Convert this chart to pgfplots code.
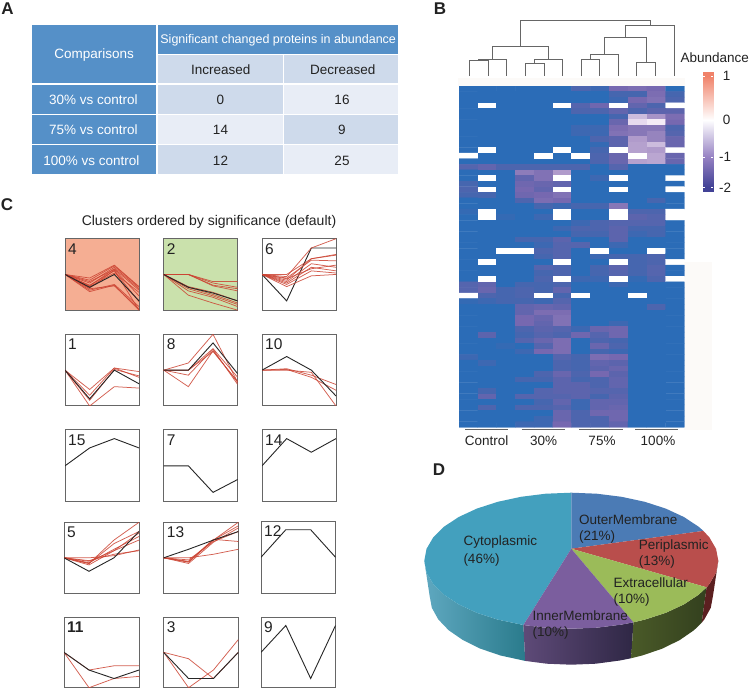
\documentclass[border=0pt]{standalone}
\usepackage{fontspec}
\setmainfont{Liberation Sans}
\usepackage{pgfplots}
\usepackage{pgfplotstable}
\pgfplotsset{compat=1.18}

\newcommand{\fs}[1]{\fontsize{#1}{#1}\selectfont}
\definecolor{hd}{HTML}{5590C8}
\definecolor{cdark}{HTML}{CEDAEB}
\definecolor{clite}{HTML}{E8EDF6}
\definecolor{txt}{HTML}{222222}
\definecolor{redl}{HTML}{CC4433}
\definecolor{faint}{HTML}{FCFAF8}

\pgfplotsset{
  colormap={heatmap}{rgb255(0)=(43,108,183) rgb255(3)=(70,102,175) rgb255(6)=(92,100,173)
    rgb255(10)=(118,104,176) rgb255(14)=(141,124,186) rgb255(18)=(176,155,203)
    rgb255(22)=(196,178,216) rgb255(26)=(230,218,238) rgb255(28)=(244,236,246)
    rgb255(30)=(255,255,255) rgb255(40)=(240,130,105)},
  colormap={barmap}{rgb255(0)=(66,66,150) rgb255(1)=(150,130,195) rgb255(2)=(255,255,255) rgb255(3)=(240,130,105)},
  panel/.style={scale only axis, anchor=north west, ticks=none, xmin=0, xmax=3, ymin=0, ymax=1,
    axis line style={draw=black!60, line width=1pt}},
  rd/.style={redl, line width=.75pt, opacity=.85, no marks},
  bk/.style={black!85, line width=.9pt, no marks},
  dendro/.style={black!60, line width=1pt, no marks},
}

% heatmap rows top to bottom, 12 conditions; 0 = missing (white), -3 = lowest
\pgfplotstableread[row sep=\\]{v\\
-3\\-3\\-3\\-3\\-3\\-3\\-2.6\\-2.8\\-2.0\\-1.9\\-2.0\\-3\\
-3\\-3\\-3\\-3\\-3\\-3\\-3\\-3\\-2.7\\-2.7\\-1.9\\-2.7\\
-3\\-3\\-3\\-3\\-3\\-3\\-3\\-3\\-2.8\\-2.0\\-1.8\\-2.6\\
-3\\0\\-3\\-3\\-3\\0\\-2.5\\-2.1\\0\\-2.3\\-2.6\\0\\
-3\\-3\\-3\\-3\\-3\\-3\\-2.6\\-2.6\\-2.3\\-2.6\\-2.4\\-2.4\\
-3\\-3\\-3\\-3\\-3\\-3\\-3\\-3\\-2.7\\-0.7\\-1.3\\-1.9\\
-3\\-3\\-3\\-3\\-3\\-3\\-3\\-3\\-2.2\\-0.4\\-0.2\\-2.0\\
-3\\-3\\-3\\-3\\-3\\-3\\-2.8\\-2.8\\-1.9\\-1.7\\-1.7\\-2.6\\
-3\\-3\\-3\\-3\\-3\\-3\\-2.8\\-2.8\\-1.8\\-1.7\\-1.5\\-2.5\\
-3\\-3\\-3\\-3\\-3\\-3\\-3\\-2.6\\-2.4\\-1.2\\-1.5\\-2.2\\
-3\\-3\\-3\\-3\\-3\\-3\\-3\\-2.9\\-2.4\\-1.1\\-0.7\\-2.2\\
-3\\0\\-3\\-3\\-3\\0\\-3\\-2.7\\0\\-1.1\\-1.2\\0\\
0\\-3\\-3\\-3\\0\\-3\\0\\-2.6\\-2.2\\0\\-1.0\\-2.2\\
-3\\-3\\-3\\-3\\-3\\-3\\-3\\-2.6\\-2.2\\-1.1\\-1.0\\-2.2\\
-2.5\\-2.3\\-2.6\\-2.6\\-2.6\\-2.6\\-2.6\\-3\\-2.5\\-3\\-3\\-3\\
-3\\-3\\-3\\-1.6\\-1.8\\-1.2\\-3\\-3\\-3\\-3\\-3\\-3\\
-3\\0\\-3\\-2.3\\-1.8\\0\\-3\\-2.8\\0\\-3\\-3\\0\\
-2.7\\-3\\-3\\-2.1\\-2.2\\-2.3\\-3\\-3\\-3\\-3\\-3\\-3\\
-2.6\\0\\-3\\-2.0\\-2.3\\0\\-3\\-3\\0\\-3\\-3\\0\\
-2.7\\-2.7\\-3\\-2.1\\-2.0\\-1.8\\-3\\-3\\-3\\-3\\-3\\-3\\
-3\\-3\\-3\\-2.6\\-1.9\\-2.0\\-3\\-3\\-3\\-3\\-2.7\\-3\\
-3\\-3\\-3\\-3\\-2.7\\-2.8\\-2.7\\-2.7\\-1.7\\-3\\-3\\-3\\
-2.9\\0\\-3\\-3\\-3\\0\\-3\\-3\\0\\-2.6\\-2.6\\0\\
-3\\0\\-2.9\\-3\\-2.8\\0\\-3\\-3\\0\\-2.4\\-2.5\\0\\
-3\\-3\\-3\\-3\\-3\\-3\\-2.8\\-2.6\\-2.5\\-2.5\\-2.5\\-3\\
-3\\-3\\-3\\-3\\-3\\-2.8\\-2.6\\-2.6\\-2.4\\-2.7\\-2.7\\-3\\
-3\\-3\\-3\\-3\\-3\\-3\\-2.7\\-2.7\\-2.4\\-2.8\\-2.7\\-3\\
-3\\-3\\-3\\-2.7\\-2.7\\-2.4\\-3\\-3\\-2.4\\-3\\-3\\-3\\
-3\\-3\\-3\\-3\\-2.8\\-2.5\\-2.5\\-3\\-2.8\\-3\\-3\\-3\\
-3\\-3\\0\\0\\-2.6\\-2.5\\-3\\0\\-3\\-3\\0\\-3\\
-3\\-3\\-3\\-3\\-2.7\\-2.5\\-3\\-2.8\\-2.7\\-2.7\\-2.6\\-3\\
-3\\0\\-3\\-3\\-3\\0\\-3\\-3\\0\\-2.7\\-2.6\\0\\
-3\\-3\\-3\\-3\\-2.5\\-2.6\\-3\\-2.7\\-2.4\\-2.7\\-2.5\\-3\\
-3\\-3\\-3\\-3\\-2.7\\-2.6\\-3\\-2.7\\-2.5\\-2.7\\-2.5\\-3\\
-3\\0\\-3\\-3\\-2.6\\0\\-2.8\\-2.8\\0\\-2.9\\-2.6\\0\\
-2.5\\-2.3\\-3\\-2.7\\-2.7\\-2.6\\-3\\-3\\-2.8\\-3\\-3\\-3\\
-2.5\\-2.2\\-2.7\\-2.6\\-2.7\\-2.3\\-3\\-3\\-3\\-3\\-3\\-3\\
0\\-2.6\\-2.7\\-2.6\\0\\-2.7\\0\\-3\\-3\\0\\-3\\-3\\
-2.9\\-2.8\\-2.7\\-2.7\\-2.8\\-2.5\\-3\\-3\\-3\\-3\\-3\\-3\\
-3\\-3\\-3\\-2.3\\-2.2\\-2.3\\-3\\-3\\-3\\-3\\-2.6\\-3\\
-3\\-3\\-3\\-2.3\\-1.9\\-1.9\\-3\\-3\\-3\\-3\\-3\\-3\\
-3\\-3\\-3\\-2.0\\-2.2\\-1.8\\-3\\-3\\-3\\-3\\-3\\-3\\
-3\\-3\\-3\\-2.0\\-2.3\\-1.8\\-3\\-3\\-2.8\\-3\\-3\\-3\\
-3\\-3\\-3\\-2.6\\-2.4\\-2.5\\-2.8\\-2.2\\-2.1\\-3\\-3\\-3\\
-3\\-2.4\\-3\\-2.7\\-2.5\\-2.6\\-2.1\\-2.5\\-2.1\\-3\\-3\\-3\\
-3\\-3\\-3\\-2.5\\-2.2\\-1.9\\-3\\-2.6\\-2.7\\-3\\-3\\-3\\
-3\\-3\\-2.9\\-3\\-2.5\\-1.9\\-3\\-2.2\\-2.6\\-3\\-3\\-3\\
-3\\-3\\-3\\-2.8\\-2.0\\-1.9\\-3\\-2.7\\-2.8\\-3\\-3\\-3\\
-2.8\\-3\\-3\\-3\\-3\\-2.5\\-2.7\\-1.9\\-2.0\\-3\\-3\\-3\\
-3\\-2.8\\-3\\-3\\-3\\-2.6\\-2.7\\-2.3\\-2.4\\-3\\-3\\-3\\
-3\\-3\\-3\\-3\\-3\\-2.6\\-2.7\\-2.4\\-2.2\\-3\\-3\\-3\\
-3\\-3\\-3\\-3\\-2.6\\-2.2\\-2.6\\-2.0\\-2.4\\-3\\-3\\-3\\
-3\\-3\\-3\\-2.7\\-2.7\\-2.4\\-2.7\\-2.6\\-2.3\\-3\\-3\\-3\\
-3\\-3\\-3\\-3\\-3\\-2.4\\-2.4\\-2.6\\-2.3\\-3\\-3\\-3\\
-3\\-2.7\\-3\\-3\\-2.5\\-2.4\\-2.4\\-2.5\\-2.5\\-3\\-3\\-3\\
-3\\-2.3\\-3\\-2.5\\-2.5\\-2.5\\-2.4\\-2.7\\-2.4\\-3\\-3\\-3\\
-3\\-3\\-3\\-3\\-2.7\\-2.3\\-2.8\\-2.3\\-2.3\\-3\\-3\\-3\\
-3\\-2.6\\-3\\-2.6\\-2.6\\-2.5\\-2.8\\-2.3\\-2.2\\-3\\-3\\-3\\
-3\\-3\\-3\\-3\\-3\\-2.2\\-2.6\\-2.1\\-2.1\\-3\\-3\\-3\\
-3\\-3\\-3\\-3\\-2.8\\-2.2\\-2.6\\-2.6\\-2.1\\-3\\-3\\-3\\
-3\\-3\\-3\\-2.8\\-2.8\\-2.0\\-2.6\\-2.6\\-2.3\\-3\\-3\\-3\\
}\heat

\newcommand{\cell}[5]{\addplot[fill=#5, draw=white, line width=1.1pt, no marks] coordinates {(#1,#2)(#3,#2)(#3,#4)(#1,#4)} -- cycle;}
\newcommand{\rl}[4]{\addplot[rd] coordinates {(0,#1)(1,#2)(2,#3)(3,#4)};}
\newcommand{\bl}[4]{\addplot[bk] coordinates {(0,#1)(1,#2)(2,#3)(3,#4)};}
% x, y of top edge, width, height, background, number, lines
\newcommand{\panel}[7]{
  \begin{axis}[panel, at={(#1pt,689pt-#2pt)}, width=#3pt, height=#4pt, axis background/.style={fill=#5}]
    #7
    \node[anchor=west, inner sep=0pt, font=\fs{15.5}, text=txt] at (rel axis cs:.04,.86) {#6};
  \end{axis}}

\begin{document}
\begin{tikzpicture}[x=1pt, y=1pt]
\path[use as bounding box] (0,0) rectangle (750,689);

% everything typed in reference pixels
\begin{axis}[at={(0,0)}, anchor=south west, scale only axis, width=750pt, height=689pt,
  xmin=0, xmax=750, ymin=0, ymax=689, y dir=reverse, hide axis, clip=false]

% faint bands round the heatmap
\addplot[fill=faint, draw=none, no marks] coordinates {(458,78)(685,78)(685,86)(458,86)} -- cycle;
\addplot[fill=faint, draw=none, no marks] coordinates {(684,262)(712,262)(712,430)(684,430)} -- cycle;

% A: table
\cell{31.7}{24.3}{157}{84}{hd}
\cell{157}{24.3}{399}{54.3}{hd}
\cell{157}{54.3}{283.3}{84}{cdark}
\cell{283.3}{54.3}{399}{84}{cdark}
\cell{31.7}{84}{157}{114.7}{hd}
\cell{157}{84}{283.3}{114.7}{cdark}
\cell{283.3}{84}{399}{114.7}{clite}
\cell{31.7}{114.7}{157}{144.7}{hd}
\cell{157}{114.7}{283.3}{144.7}{clite}
\cell{283.3}{114.7}{399}{144.7}{cdark}
\cell{31.7}{144.7}{157}{174.3}{hd}
\cell{157}{144.7}{283.3}{174.3}{cdark}
\cell{283.3}{144.7}{399}{174.3}{clite}
\begin{scope}[every node/.style={font=\fs{13.5}, text=txt, inner sep=0pt}]
\node[text=white] at (94.2,55) {Comparisons};
\node[text=white, font=\fs{12.5}] at (278.2,40.7) {Significant changed proteins in abundance};
\node at (220.8,70) {Increased};
\node at (342.7,70) {Decreased};
\node[text=white] at (93.3,100) {30\% vs control};
\node[text=white] at (93.3,130) {75\% vs control};
\node[text=white] at (91.3,160.7) {100\% vs control};
\node at (220.5,100) {0};
\node at (342,100) {16};
\node at (220.5,130) {14};
\node at (342,130) {9};
\node at (220.5,160.7) {12};
\node at (342,160.7) {25};
\node[font=\fs{17}\bfseries] at (7.5,9) {A};
\node[font=\fs{17}\bfseries] at (440,9) {B};
\node[font=\fs{17}\bfseries] at (7,205) {C};
\node[font=\fs{17}\bfseries] at (439,470) {D};
\node[font=\fs{14}] at (209,221.7) {Clusters ordered by significance (default)};
\node at (714.7,58) {Abundance};
\node at (726.7,76) {1};
\node at (726.7,120) {0};
\node at (725,156.7) {-1};
\node at (725,187.3) {-2};
\node at (486.7,440.7) {Control};
\node at (543.7,440.7) {30\%};
\node at (602,440.7) {75\%};
\node at (658,440.7) {100\%};
\end{scope}

% B: dendrogram and group bars
\addplot[dendro] coordinates {(469,76)(469,60)(488,60)(488,76)};
\addplot[dendro] coordinates {(478.7,60)(478.7,59)(506.7,59)(506.7,76)};
\addplot[dendro] coordinates {(525,76)(525,63.3)(544,63.3)(544,76)};
\addplot[dendro] coordinates {(534.3,63.3)(534.3,59.3)(562.3,59.3)(562.3,76)};
\addplot[dendro] coordinates {(492.3,59)(492.3,46.7)(548.3,46.7)(548.3,59.3)};
\addplot[dendro] coordinates {(581,76)(581,59)(599.7,59)(599.7,76)};
\addplot[dendro] coordinates {(590,59)(590,54.3)(618.3,54.3)(618.3,76)};
\addplot[dendro] coordinates {(636.7,76)(636.7,62.7)(655.7,62.7)(655.7,76)};
\addplot[dendro] coordinates {(604,54.3)(604,37.7)(646,37.7)(646,62.7)};
\addplot[dendro] coordinates {(625,37.7)(625,25)(674,25)(674,76)};
\addplot[dendro] coordinates {(520.3,46.7)(520.3,20.7)(650,20.7)(650,25)};
\addplot[black!60, line width=.9pt, no marks] coordinates {(465,429.7)(508.3,429.7)};
\addplot[black!60, line width=.9pt, no marks] coordinates {(521.7,429.7)(565,429.7)};
\addplot[black!60, line width=.9pt, no marks] coordinates {(579.3,429.7)(622.7,429.7)};
\addplot[black!60, line width=.9pt, no marks] coordinates {(635,429.7)(678.3,429.7)};

% D: pie, side walls first
\addplot[draw=none, left color={rgb,255:red,95;green,168;blue,192}, right color={rgb,255:red,42;green,123;blue,140}, no marks] coordinates {
(523.4,625.0)(497.8,619.6)(476.8,612.8)(458.7,604.4)(444.0,594.7)(433.2,584.0)(426.5,572.5)(424.3,560.7)
(429.6,595.7)(431.8,607.7)(438.2,619.3)(448.6,630.2)(462.8,640.0)(480.2,648.6)(500.5,655.5)(525.2,660.9)} -- cycle;
\addplot[draw=none, left color={rgb,255:red,94;green,74;blue,120}, right color={rgb,255:red,47;green,39;blue,69}, no marks] coordinates {
(523.4,625.0)(545.8,627.7)(571.3,628.7)(596.8,627.7)(621.6,624.6)(633.4,622.3)
(631.2,658.2)(619.8,660.5)(595.9,663.7)(571.3,664.7)(546.7,663.7)(525.2,660.9)} -- cycle;
\addplot[draw=none, left color={rgb,255:red,74;green,90;blue,40}, right color={rgb,255:red,51;green,64;blue,30}, no marks] coordinates {
(633.4,622.3)(644.8,619.6)(665.8,612.8)(683.9,604.4)(698.6,594.7)(706.6,587.3)
(701.7,622.7)(694.0,630.2)(679.8,640.0)(662.4,648.6)(642.2,655.5)(631.2,658.2)} -- cycle;
\addplot[draw=none, fill={rgb,255:red,91;green,31;blue,32}, no marks] coordinates {
(706.6,587.3)(709.4,584.0)(716.1,572.5)(718.3,560.7)(713.0,595.7)(710.8,607.7)(704.4,619.3)(701.7,622.7)} -- cycle;
% top face
\addplot[draw=none, fill={rgb,255:red,67;green,160;blue,190}, no marks] coordinates {(571.3,548.7)(523.4,625.0)
(497.8,619.6)(476.8,612.8)(458.7,604.4)(444.0,594.7)(433.2,584.0)(426.5,572.5)(424.3,560.7)(426.5,548.9)(433.2,537.4)
(444.0,526.7)(458.7,517.0)(476.8,508.6)(497.8,501.8)(521.0,496.8)(545.8,493.7)(571.3,492.7)} -- cycle;
\addplot[draw=none, fill={rgb,255:red,75;green,123;blue,181}, no marks] coordinates {(571.3,548.7)(571.3,492.7)
(596.8,493.7)(621.6,496.8)(644.8,501.8)(665.8,508.6)(683.9,517.0)(698.6,526.7)(703.4,530.9)} -- cycle;
\addplot[draw=none, fill={rgb,255:red,185;green,78;blue,76}, no marks] coordinates {(571.3,548.7)(703.4,530.9)
(709.4,537.4)(716.1,548.9)(718.3,560.7)(716.1,572.5)(709.4,584.0)(706.6,587.3)} -- cycle;
\addplot[draw=none, fill={rgb,255:red,155;green,187;blue,89}, no marks] coordinates {(571.3,548.7)(706.6,587.3)
(698.6,594.7)(683.9,604.4)(665.8,612.8)(644.8,619.6)(633.4,622.3)} -- cycle;
\addplot[draw=none, fill={rgb,255:red,123;green,94;blue,158}, no marks] coordinates {(571.3,548.7)(633.4,622.3)
(621.6,624.6)(596.8,627.7)(571.3,628.7)(545.8,627.7)(523.4,625.0)} -- cycle;
\begin{scope}[every node/.style={font=\fs{13.5}, text=txt, inner sep=0pt, anchor=west}]
\node at (463.3,542.3) {Cytoplasmic};
\node at (463.3,560) {(46\%)};
\node at (579,520) {OuterMembrane};
\node at (579,537.3) {(21\%)};
\node at (638.7,545.7) {Periplasmic};
\node at (638.7,562.3) {(13\%)};
\node at (613.3,582.7) {Extracellular};
\node at (613.3,600) {(10\%)};
\node at (532.3,615.7) {InnerMembrane};
\node at (532.3,633.3) {(10\%)};
\end{scope}
\end{axis}

% B: heatmap
\begin{axis}[at={(459pt,689pt-86pt)}, anchor=north west, scale only axis, width=225.3pt, height=341.3pt,
  xmin=-.5, xmax=11.5, ymin=-.5, ymax=60.5, y dir=reverse, hide axis,
  colormap name=heatmap, point meta min=-3, point meta max=1]
\addplot[matrix plot*, mesh/cols=12, point meta=\thisrow{v}] table[x index=0, y index=0, x expr={mod(\coordindex,12)}, y expr={floor((\coordindex+.5)/12)}] {\heat};
\end{axis}

% B: colour key
\begin{axis}[at={(703pt,689pt-72pt)}, anchor=north west, scale only axis, width=10pt, height=120pt,
  xmin=0, xmax=1, ymin=72, ymax=192, y dir=reverse, hide axis, view={0}{90}, clip=false,
  colormap name=barmap, point meta min=-2, point meta max=1]
\addplot3[surf, shader=interp, mesh/cols=2, point meta=explicit] coordinates {
(0,72,0)[1](1,72,0)[1]
(0,76,0)[1](1,76,0)[1]
(0,120,0)[0](1,120,0)[0]
(0,157,0)[-1](1,157,0)[-1]
(0,187,0)[-2](1,187,0)[-2]
(0,192,0)[-2](1,192,0)[-2]};
\addplot3[white, line width=.7pt, no marks] coordinates {(0,76,0)(.18,76,0)};
\addplot3[white, line width=.7pt, no marks] coordinates {(.82,76,0)(1,76,0)};
\addplot3[white, line width=.7pt, no marks] coordinates {(0,157,0)(.18,157,0)};
\addplot3[white, line width=.7pt, no marks] coordinates {(.82,157,0)(1,157,0)};
\addplot3[white, line width=.7pt, no marks] coordinates {(0,187,0)(.18,187,0)};
\addplot3[white, line width=.7pt, no marks] coordinates {(.82,187,0)(1,187,0)};
\end{axis}

% C: cluster panels
\panel{65}{238.7}{74}{71.5}{{rgb,255:red,245;green,174;blue,147}}{4}{
\rl{.5}{.26}{.35}{0}\rl{.5}{.28}{.36}{.05}\rl{.5}{.30}{.34}{.02}\rl{.5}{.34}{.58}{.28}\rl{.5}{.38}{.60}{.30}
\rl{.5}{.42}{.62}{.32}\rl{.5}{.40}{.57}{.20}\rl{.5}{.35}{.55}{.12}\rl{.5}{.33}{.52}{.25}\rl{.5}{.45}{.63}{.33}\rl{.5}{.31}{.56}{0}
\bl{.5}{.32}{.5}{.13}}
\panel{163.7}{238.7}{74}{71.5}{{rgb,255:red,202;green,225;blue,172}}{2}{
\rl{.5}{.5}{.38}{.32}\rl{.5}{.5}{.34}{.27}\rl{.5}{.5}{.35}{.30}\rl{.5}{.5}{.40}{.40}\rl{.5}{.21}{.10}{0}
\rl{.5}{.27}{.18}{.05}\rl{.5}{.3}{.2}{.08}\rl{.5}{.32}{.22}{.10}\rl{.5}{.33}{.25}{.13}
\bl{.5}{.32}{.24}{.13}}
\panel{262}{238.7}{74}{71.5}{white}{6}{
\bl{.5}{.13}{.87}{.87}
\rl{.5}{.47}{.87}{1}\rl{.5}{.5}{.72}{.77}\rl{.5}{.45}{.7}{.69}\rl{.5}{.42}{.72}{.78}\rl{.5}{.4}{.65}{.6}
\rl{.5}{.38}{.6}{.55}\rl{.5}{.36}{.55}{.52}\rl{.5}{.33}{.48}{.5}\rl{.5}{.44}{.58}{.63}}
\panel{65}{334.3}{74}{71.7}{white}{1}{
\rl{.5}{0}{.27}{.25}\rl{.5}{.15}{.53}{.48}\rl{.5}{.23}{.53}{.4}\rl{.5}{.08}{.51}{.42}
\bl{.5}{.1}{.5}{.31}}
\panel{163.7}{334.3}{74}{71.7}{white}{8}{
\rl{.5}{.6}{1}{.33}\rl{.5}{.27}{.77}{.33}\rl{.5}{.43}{.79}{.3}\rl{.5}{.5}{.76}{.34}\rl{.5}{.5}{.8}{.4}
\bl{.5}{.5}{.88}{.45}}
\panel{262}{334.3}{74}{71.7}{white}{10}{
\rl{.5}{.5}{.47}{0}\rl{.5}{.52}{.43}{.3}\rl{.5}{.51}{.4}{.22}
\bl{.5}{.69}{.5}{.14}}
\panel{65}{430}{74}{71.7}{white}{15}{\bl{.5}{.75}{.88}{.75}}
\panel{163.7}{430}{74}{71.7}{white}{7}{\bl{.5}{.5}{.13}{.31}}
\panel{262}{430}{74}{71.7}{white}{14}{\bl{.5}{.88}{.69}{.88}}
\panel{64}{522.3}{75}{71}{white}{5}{
\rl{.5}{.42}{.75}{1}\rl{.5}{.43}{.62}{.8}\rl{.5}{.45}{.6}{.75}\rl{.5}{.4}{.6}{.85}\rl{.5}{.42}{.7}{.87}\rl{.5}{.46}{.55}{.6}\rl{.5}{.5}{.53}{.61}
\bl{.5}{.31}{.5}{.87}}
\panel{163.7}{522.3}{74.6}{71}{white}{13}{
\rl{.5}{.44}{.75}{1}\rl{.5}{.5}{.55}{.62}\rl{.5}{.45}{.76}{.73}\rl{.5}{.42}{.72}{.92}\rl{.5}{.47}{.73}{.87}\rl{.5}{.44}{.75}{.95}
\bl{.5}{.62}{.75}{.87}}
\panel{261}{521}{74.5}{72.5}{white}{12}{\bl{.5}{.88}{.88}{.5}}
\panel{64}{617}{75}{70.7}{white}{\bfseries 11}{
\rl{.5}{0}{.13}{.16}\rl{.5}{.25}{.31}{.31}
\bl{.5}{.25}{.13}{.25}}
\panel{163.7}{617}{74.6}{70.7}{white}{3}{
\rl{.5}{.41}{.13}{.5}\rl{.5}{0}{.25}{.68}
\bl{.5}{.13}{.13}{.5}}
\panel{261}{617}{74.5}{70.7}{white}{9}{\bl{.5}{.88}{.13}{.88}}
\end{tikzpicture}
\end{document}
